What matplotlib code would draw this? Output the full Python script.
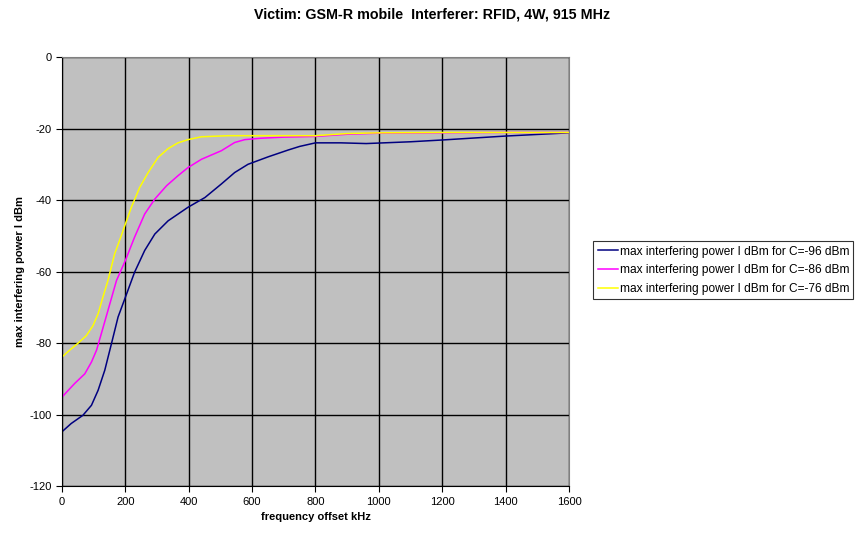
import matplotlib
matplotlib.use("Agg")
import matplotlib.pyplot as plt

plt.rcParams["font.family"] = ["Liberation Sans", "DejaVu Sans"]
plt.rcParams["axes.unicode_minus"] = False

# values (kHz, dBm)
freq_c96 = [0, 29, 66, 93, 114, 135, 156, 177, 200, 229, 261, 293, 335, 398,
            451, 503, 545, 587, 651, 714, 750, 800, 880, 960, 1100, 1200,
            1400, 1600]
pwr_c96 = [-104.8, -102.5, -100.2, -97.4, -93.2, -87.6, -80.2, -72.7, -67.2,
           -60.2, -54.1, -49.5, -45.8, -42.0, -39.3, -35.5, -32.3, -30.0,
           -27.9, -26.0, -25.0, -24.0, -24.0, -24.2, -23.7, -23.2, -22.1,
           -21.2]

freq_c86 = [0, 40, 72, 93, 109, 124, 145, 172, 200, 229, 261, 293, 330, 366,
            398, 440, 503, 545, 577, 629, 700, 802, 900, 1000, 1200, 1400,
            1600]
pwr_c86 = [-95.1, -91.3, -88.6, -85.3, -82.0, -77.4, -70.9, -62.5, -56.9,
           -50.4, -43.9, -39.7, -36.0, -33.2, -30.9, -28.6, -26.2, -23.9,
           -23.1, -22.7, -22.4, -22.2, -21.6, -21.3, -21.2, -21.1, -21.1]

freq_c76 = [0, 24, 51, 77, 98, 114, 129, 145, 166, 187, 200, 219, 245, 272,
            303, 335, 366, 398, 440, 524, 600, 800, 900, 1000, 1200, 1400,
            1600]
pwr_c76 = [-83.9, -82.0, -80.0, -77.9, -75.1, -71.8, -67.2, -62.5, -55.1,
           -50.0, -46.7, -42.0, -36.5, -32.3, -28.1, -25.6, -24.0, -23.1,
           -22.3, -22.0, -22.0, -22.0, -21.4, -21.2, -21.1, -21.1, -21.1]

labels = ["max interfering power I dBm for C=-96 dBm",
          "max interfering power I dBm for C=-86 dBm",
          "max interfering power I dBm for C=-76 dBm"]
colors = ["#000080", "#FF00FF", "#FFFF00"]

fig = plt.figure(figsize=(8.55, 5.33), dpi=100)
ax = fig.add_axes([0.0725, 0.088, 0.593, 0.805])
ax.set_facecolor("#C0C0C0")

lines = []
for f, p, c, lab in zip([freq_c96, freq_c86, freq_c76],
                        [pwr_c96, pwr_c86, pwr_c76], colors, labels):
    ln, = ax.plot(f, p, color=c, linewidth=1.1, label=lab)
    lines.append(ln)

ax.set_xlim(0, 1600)
ax.set_ylim(-120, 0)
ax.set_xticks(range(0, 1601, 200))
ax.set_yticks(range(-120, 1, 20))
ax.grid(True, color="black", linewidth=1)
ax.set_axisbelow(True)
ax.tick_params(labelsize=8, direction="out", length=4, color="black")
for s in ["top", "right"]:
    ax.spines[s].set_color("#808080")
for s in ["left", "bottom"]:
    ax.spines[s].set_color("black")

ax.set_xlabel("frequency offset kHz", fontsize=8, fontweight="bold")
ax.set_ylabel("max interfering power I dBm", fontsize=8, fontweight="bold",
              labelpad=3)
fig.suptitle("Victim: GSM-R mobile  Interferer: RFID, 4W, 915 MHz",
             fontsize=10.3, fontweight="bold", x=0.505, y=0.985)

leg = fig.legend(handles=lines, loc="upper left", bbox_to_anchor=(0.694, 0.547),
                 fontsize=8.6, frameon=True, fancybox=False, handlelength=1.7,
                 handletextpad=0.15, borderpad=0.35, labelspacing=0.55,
                 borderaxespad=0)
leg.get_frame().set_edgecolor("black")
leg.get_frame().set_linewidth(0.8)

fig.savefig("out.png", dpi=100)
